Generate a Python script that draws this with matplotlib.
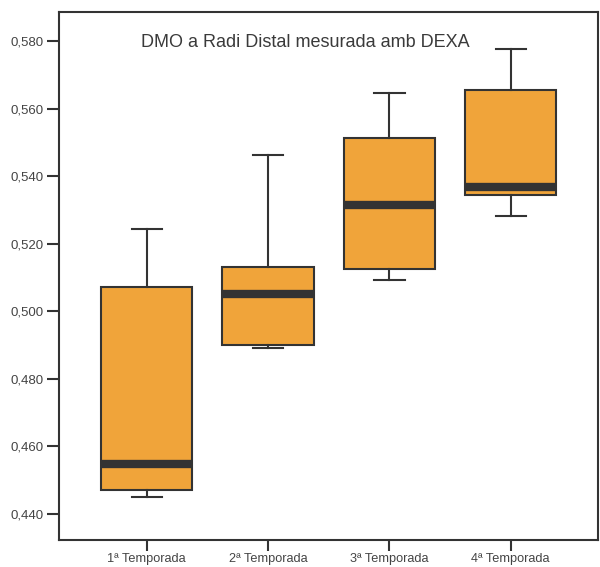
import matplotlib.pyplot as plt

plt.rcParams['font.family'] = ['Liberation Sans', 'DejaVu Sans']

# Box statistics per season (whisker low, Q1, median, Q3, whisker high)
seasons = ['1ª Temporada', '2ª Temporada', '3ª Temporada', '4ª Temporada']
whisker_low = [0.4450, 0.4892, 0.5094, 0.5283]
q1 = [0.4470, 0.4901, 0.5124, 0.5345]
median = [0.4549, 0.5052, 0.5315, 0.5369]
q3 = [0.5071, 0.5132, 0.5514, 0.5655]
whisker_high = [0.5244, 0.5463, 0.5646, 0.5776]

y_ticks = [0.440, 0.460, 0.480, 0.500, 0.520, 0.540, 0.560, 0.580]

stats = []
for i, name in enumerate(seasons):
    stats.append({
        'label': name,
        'whislo': whisker_low[i],
        'q1': q1[i],
        'med': median[i],
        'q3': q3[i],
        'whishi': whisker_high[i],
        'fliers': [],
    })

dark = '#333333'
fill = '#F0A43A'

fig = plt.figure(figsize=(6, 5.67), dpi=100)
ax = fig.add_axes([0.0983, 0.0476, 0.8984, 0.9312])

ax.bxp(stats, positions=[1, 2, 3, 4], widths=0.755, patch_artist=True,
       showfliers=False,
       boxprops=dict(facecolor=fill, edgecolor=dark, linewidth=1.5),
       medianprops=dict(color=dark, linewidth=6, solid_capstyle='butt'),
       whiskerprops=dict(color=dark, linewidth=1.5),
       capprops=dict(color=dark, linewidth=1.5),
       capwidths=0.25)

ax.set_xlim(0.277, 4.72)
ax.set_ylim(0.4323, 0.5886)
ax.set_yticks(y_ticks)
ax.set_yticklabels([f'{v:.3f}'.replace('.', ',') for v in y_ticks])
ax.set_xticks([1, 2, 3, 4])
ax.set_xticklabels(seasons)

for side in ax.spines.values():
    side.set_color(dark)
    side.set_linewidth(1.5)

ax.tick_params(axis='y', length=9, width=1.5, color=dark, labelsize=9.5,
               labelcolor='#444444', pad=2)
ax.tick_params(axis='x', length=8, width=1.5, color=dark, labelsize=9.2,
               labelcolor='#444444', pad=1.5)

ax.text(0.457, 0.943, 'DMO a Radi Distal mesurada amb DEXA',
        transform=ax.transAxes, ha='center', va='center',
        fontsize=13, color='#3a3a3a')

fig.savefig('out.png', dpi=100)
